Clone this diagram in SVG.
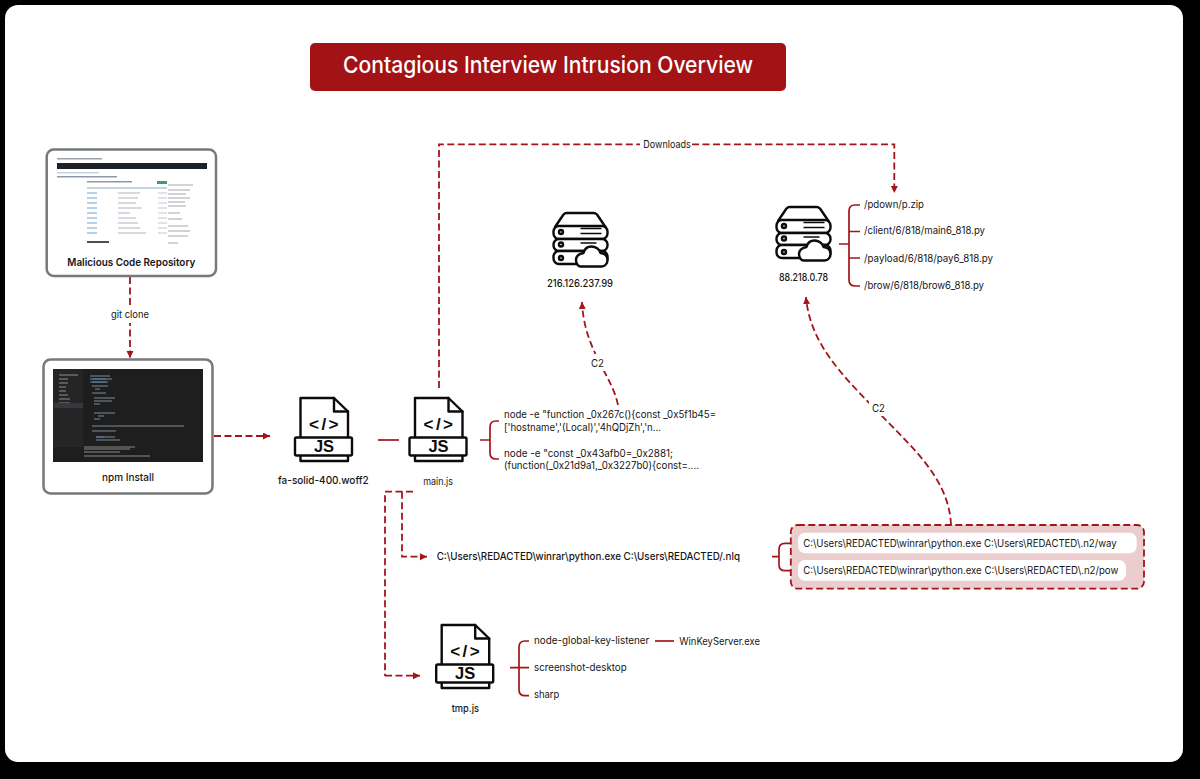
<svg xmlns="http://www.w3.org/2000/svg" xmlns:xlink="http://www.w3.org/1999/xlink" width="1200" height="779" viewBox="0 0 1200 779">
<style>
text{font-family:"Inter","Noto Sans","Liberation Sans",sans-serif;fill:#161616;font-size:10.5px;font-weight:400}
.b{font-weight:600}
.m{font-weight:500}
.card{fill:#fff;stroke:#77787a;stroke-width:2.5}
.dash{fill:none;stroke:#a3141b;stroke-width:1.8;stroke-dasharray:7 3.5}
.arr{marker-end:url(#ah)}
.sol{fill:none;stroke:#a3141b;stroke-width:1.7}
.ic{fill:#fff;stroke:#0b0b0b;stroke-width:2.4;stroke-linejoin:round}
.icn{fill:none;stroke:#0b0b0b;stroke-width:2.4;stroke-linecap:round;stroke-linejoin:round}
.thin{fill:none;stroke:#0b0b0b;stroke-width:1.5}
.js{font-family:"Liberation Sans",sans-serif;font-weight:700;font-size:16.5px;text-anchor:middle;fill:#0b0b0b}
.tag{font-family:"Liberation Sans",sans-serif;font-weight:700;font-size:17px;letter-spacing:2.5px;text-anchor:middle;fill:#0b0b0b}
.pill{fill:#fff}
.l1{fill:#c5d3e0}.l2{fill:#8d99a6}
</style>
<defs>
<marker id="ah" markerUnits="userSpaceOnUse" markerWidth="8" markerHeight="8" refX="7" refY="3.5" orient="auto"><path d="M0 0L7 3.5L0 7Z" fill="#a3141b"/></marker>
<g id="jsfile">
<path class="ic" d="M5.500 1.500H39L53 15V64.500H5.500Z"/>
<path class="icn" d="M39 1.500V15H53"/>
<rect class="ic" x="0" y="41" width="57" height="18" rx="1.500"/>
</g>
<g id="server">
<path class="icn" d="M2.500 15L11 2.500Q12.500 1 14 1H41Q43 1 44.500 2.500L53 15"/>
<rect class="ic" x="1" y="14" width="54" height="13" rx="5.500"/>
<rect class="ic" x="1" y="27" width="54" height="12" rx="5.500"/>
<rect class="ic" x="1" y="39" width="54" height="13" rx="5.500"/>
<circle class="icn" cx="8.500" cy="20" r="2"/><circle class="icn" cx="8.500" cy="32.500" r="2"/><circle class="icn" cx="8.500" cy="46" r="2"/>
<path class="thin" d="M28 16.500H49M28 21.500H49M28 31H44"/>
<path class="ic" d="M28 54.500H49C53 54.500 55 51 55 48C55 44 52 41 48 41C47 37 43 34.500 39 34.500C35 34.500 32 37 31 41C26 42 23.500 45 23.500 48C23.500 52 26 54.500 28 54.500Z"/>
</g>
</defs>

<rect width="1200" height="779" fill="#000"/>
<rect x="5" y="5" width="1178" height="757" rx="13" fill="#fff"/>

<g id="title">
<rect x="310" y="43" width="476" height="48" rx="5" fill="#a31215"/>
<text x="343" y="73" textLength="410" lengthAdjust="spacingAndGlyphs" style="fill:#fff;font-size:23px;font-weight:500">Contagious Interview Intrusion Overview</text>
</g>

<g id="connectors">
<path class="dash arr" d="M130 277V358"/>
<path class="dash arr" d="M214 436H270"/>
<path class="sol" d="M378 440H399"/>
<path class="dash" d="M439 388V144.300H640"/>
<path class="dash arr" d="M692 144.300H894.300V193"/>
<path class="sol" d="M480 440H490M499 421H496Q490 421 490 427V453Q490 459 496 459H499"/>
<path class="sol" d="M839 244H849M860 205H855Q849 205 849 211V280Q849 286 855 286H860M849 231.500H860M849 258H860"/>
<path class="dash arr" d="M618 405C612 375 584 350 582 302"/>
<path class="dash arr" d="M951 525C949 480 915 450 880 414C845 378 810 345 806 297"/>
<path class="dash" d="M413 491.700H385V676"/>
<path class="dash arr" d="M385 675.700H420"/>
<path class="dash arr" d="M402 491.700V556.700H427"/>
<path class="sol" d="M772 556.700H779M796 543.300H785Q779 543.300 779 549.300V564.700Q779 570.700 785 570.700H796"/>
<path class="sol" d="M510 667.700H529M529 641H525Q519 641 519 647V689.700Q519 695.700 525 695.700H529"/>
<path class="sol" d="M655 641H674"/>
<rect x="108" y="306" width="44" height="17" fill="#fff"/>
<text x="111" y="318" textLength="38" lengthAdjust="spacingAndGlyphs">git clone</text>
<text x="643.300" y="147.500" textLength="47.500" lengthAdjust="spacingAndGlyphs">Downloads</text>
<rect x="588" y="354" width="19" height="17" fill="#fff"/>
<text x="591" y="367" textLength="13" lengthAdjust="spacingAndGlyphs">C2</text>
<rect x="869" y="399" width="19" height="17" fill="#fff"/>
<text x="872" y="412" textLength="13" lengthAdjust="spacingAndGlyphs">C2</text>
</g>

<g id="repo">
<rect class="card" x="46.700" y="149.500" width="169.300" height="126.500" rx="7"/>
<rect x="57" y="163" width="150" height="6" fill="#1d2229"/>
<rect x="57" y="158" width="45" height="1.500" fill="#9aa2ab"/>
<rect x="57" y="172" width="42" height="1.500" class="l1"/>
<rect x="57" y="176" width="60" height="1.500" class="l2"/>
<rect x="87" y="181" width="45" height="1.500" class="l2"/>
<rect x="157" y="181" width="10" height="3" fill="#38a169"/>
<rect x="87" y="187" width="80" height="2" class="l1"/>
<path d="M87 193H97M87 198H97M87 203H97M87 208H97M87 213H97M87 218H97M87 223H97M87 228H97M87 233H97" stroke="#6ea6d8" stroke-width="1.200"/>
<path d="M118 193H140M118 198H138M118 203H136M118 208H142M118 213H130M118 218H136M118 223H138M118 228H140M118 233H146" stroke="#aeb4bb" stroke-width="1.200"/>
<path d="M158 193H167M158 198H167M158 203H167M158 208H167M158 213H167M158 218H167M158 223H167M158 228H167M158 233H167" stroke="#c3c8cd" stroke-width="1.200"/>
<rect x="87" y="241" width="22" height="2" fill="#4a4f55"/>
<path d="M168 185H193M168 190H190M168 194H186M168 198H190M168 202H185M168 206H186M168 213H180M168 219H182M168 226H188M168 231H190M168 236H188M168 243H178" stroke="#a4a9af" stroke-width="1.100"/>
<text class="b" x="67.300" y="265.500" textLength="128" lengthAdjust="spacingAndGlyphs">Malicious Code Repository</text>
</g>

<g id="npm-install">
<rect class="card" x="43.500" y="359.500" width="169" height="134" rx="7"/>
<rect x="53" y="369" width="150" height="93" fill="#1e1e1e"/>
<rect x="53" y="369" width="30" height="78" fill="#252526"/>
<path d="M59 375H78M59 379H68M59 383H68M59 387H66M59 391H66M59 395H68M59 399H70M59 403H70M59 407H70" stroke="#8b8f93" stroke-width="1"/>
<rect x="54" y="403" width="29" height="5" fill="#37373d"/>
<path d="M90 376H110M92 379H112M92 382H108M92 386H108M95 389H100M92 393H106M94 398H115M94 401H112M94 404H100M94 413H115M98 416H104M94 419H100M92 426H184M92 431H116M96 437H115M96 440H120" stroke="#7f8b95" stroke-width="1"/>
<path d="M90 379H106M90 382H106M96 437H104" stroke="#4d78b8" stroke-width="1"/>
<path d="M84 447H135M84 449H130M84 452H120M84 456H150" stroke="#8a8a8a" stroke-width="1"/>
<text class="m" x="102" y="480.700" textLength="52" lengthAdjust="spacingAndGlyphs">npm Install</text>
</g>

<g id="fa-solid">
<use href="#jsfile" x="295" y="396.500"/>
<text class="tag" x="325" y="430">&lt;/&gt;</text>
<text class="js" x="324" y="452">JS</text>
<text class="m" x="278" y="484" textLength="90.700" lengthAdjust="spacingAndGlyphs">fa-solid-400.woff2</text>
</g>

<g id="main-js">
<use href="#jsfile" x="409.500" y="396.500"/>
<text class="tag" x="439.500" y="430">&lt;/&gt;</text>
<text class="js" x="438.500" y="452">JS</text>
<text x="423.300" y="484.500" textLength="29.700" lengthAdjust="spacingAndGlyphs">main.js</text>
</g>

<g id="node-commands">
<text x="504" y="418" textLength="212" lengthAdjust="spacingAndGlyphs">node -e "function _0x267c(){const _0x5f1b45=</text>
<text x="504" y="430.500" textLength="157" lengthAdjust="spacingAndGlyphs">['hostname','(Local)','4hQDjZh','n...</text>
<text x="504" y="456.500" textLength="169" lengthAdjust="spacingAndGlyphs">node -e "const _0x43afb0=_0x2881;</text>
<text x="504" y="469" textLength="195" lengthAdjust="spacingAndGlyphs">(function(_0x21d9a1,_0x3227b0){const=....</text>
</g>

<g id="server-216">
<use href="#server" x="552.500" y="212"/>
<text class="m" x="547" y="286.500" textLength="66" lengthAdjust="spacingAndGlyphs">216.126.237.99</text>
</g>

<g id="server-88">
<use href="#server" x="775.500" y="206"/>
<text class="m" x="779" y="280.700" textLength="49" lengthAdjust="spacingAndGlyphs">88.218.0.78</text>
</g>

<g id="paths-88">
<text x="864" y="207.700" textLength="60" lengthAdjust="spacingAndGlyphs">/pdown/p.zip</text>
<text x="864" y="234" textLength="121" lengthAdjust="spacingAndGlyphs">/client/6/818/main6_818.py</text>
<text x="864" y="261.700" textLength="129" lengthAdjust="spacingAndGlyphs">/payload/6/818/pay6_818.py</text>
<text x="864" y="288.700" textLength="120" lengthAdjust="spacingAndGlyphs">/brow/6/818/brow6_818.py</text>
</g>

<g id="nlq">
<text class="m" x="436.700" y="560" textLength="303.300" lengthAdjust="spacingAndGlyphs">C:\Users\REDACTED\winrar\python.exe C:\Users\REDACTED/.nlq</text>
</g>

<g id="persist">
<rect x="790.800" y="525" width="353.200" height="63.700" rx="7" fill="#eccdcd" stroke="#a3141b" stroke-width="1.800" stroke-dasharray="7 3.500"/>
<rect class="pill" x="798" y="532.700" width="338.700" height="20.600" rx="7"/>
<rect class="pill" x="798" y="560" width="328" height="20.700" rx="7"/>
<text x="803.300" y="546.700" textLength="313.400" lengthAdjust="spacingAndGlyphs">C:\Users\REDACTED\winrar\python.exe C:\Users\REDACTED\.n2/way</text>
<text x="803.300" y="574" textLength="315" lengthAdjust="spacingAndGlyphs">C:\Users\REDACTED\winrar\python.exe C:\Users\REDACTED\.n2/pow</text>
</g>

<g id="tmp-js">
<use href="#jsfile" x="436.200" y="623.500"/>
<text class="tag" x="466.200" y="657">&lt;/&gt;</text>
<text class="js" x="465.200" y="679">JS</text>
<text class="m" x="451.700" y="712" textLength="27.300" lengthAdjust="spacingAndGlyphs">tmp.js</text>
</g>

<g id="tmp-deps">
<text x="534" y="644" textLength="115.300" lengthAdjust="spacingAndGlyphs">node-global-key-listener</text>
<text x="534" y="671" textLength="92.700" lengthAdjust="spacingAndGlyphs">screenshot-desktop</text>
<text x="534" y="698" textLength="25.300" lengthAdjust="spacingAndGlyphs">sharp</text>
<text x="679.300" y="644.500" textLength="80.700" lengthAdjust="spacingAndGlyphs">WinKeyServer.exe</text>
</g>
</svg>
